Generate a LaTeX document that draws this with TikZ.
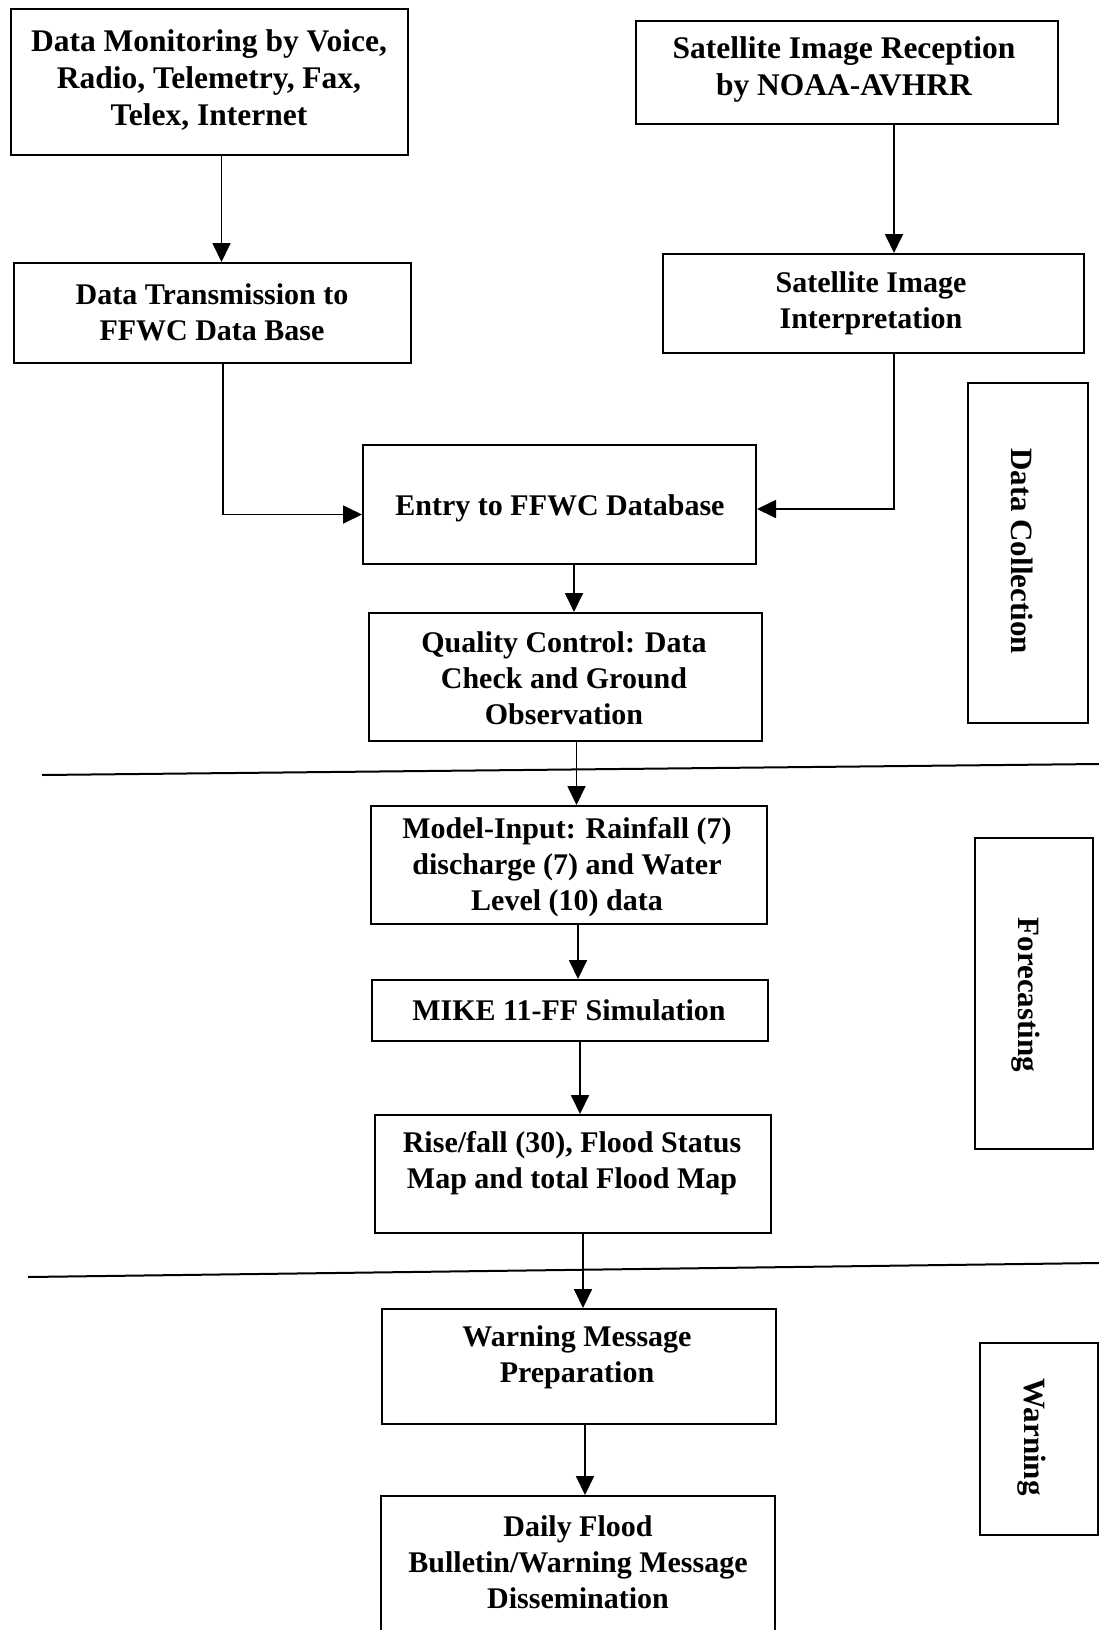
\documentclass[tikz,border=0pt]{standalone}
\usepackage{fontspec}
\setmainfont{Liberation Serif}
\usetikzlibrary{arrows.meta,calc}

\begin{document}
\begin{tikzpicture}[x=1pt,y=-1pt,
  frame/.style={draw,line width=2pt,rectangle,anchor=north west,inner sep=0pt},
  txt/.style={align=center,font=\bfseries\fontsize{30}{36}\selectfont,inner sep=0pt},
  bigtxt/.style={txt,font=\bfseries\fontsize{31.5}{37}\selectfont},
  side/.style={font=\bfseries\fontsize{31}{36}\selectfont,rotate=-90,inner sep=0pt},
  arr/.style={line width=1.8pt,-{Triangle[length=19pt,width=18pt]}},
  sep/.style={line width=2pt}]

\fill[white] (0,0) rectangle (1099,1630);
\clip (0,0) rectangle (1099,1630);

% process boxes
\node[frame,minimum width=397pt,minimum height=146pt] (mon)    at (10,8)     {};
\node[frame,minimum width=397pt,minimum height=100pt] (trans)  at (13,262)   {};
\node[frame,minimum width=422pt,minimum height=103pt] (recv)   at (635,20)   {};
\node[frame,minimum width=421pt,minimum height=99pt]  (interp) at (662,253)  {};
\node[frame,minimum width=393pt,minimum height=119pt] (entry)  at (362,444)  {};
\node[frame,minimum width=393pt,minimum height=128pt] (qc)     at (368,612)  {};
\node[frame,minimum width=396pt,minimum height=118pt] (model)  at (370,805)  {};
\node[frame,minimum width=396pt,minimum height=61pt]  (mike)   at (371,979)  {};
\node[frame,minimum width=396pt,minimum height=118pt] (rise)   at (374,1114) {};
\node[frame,minimum width=394pt,minimum height=115pt] (prep)   at (381,1308) {};
\node[frame,minimum width=394pt,minimum height=160pt] (daily)  at (380,1495) {};

% phase boxes
\node[frame,minimum width=120pt,minimum height=340pt] (pdc) at (967,382)  {};
\node[frame,minimum width=118pt,minimum height=311pt] (pfc) at (974,837)  {};
\node[frame,minimum width=118pt,minimum height=192pt] (pwn) at (979,1342) {};

% box texts
\node[bigtxt] (monT)    at (209,80)   {Data Monitoring by Voice,\\Radio, Telemetry, Fax,\\Telex, Internet};
\node[txt]    (transT)  at (212,312)  {Data Transmission to\\FFWC Data Base};
\node[bigtxt] (recvT)   at (844,69)   {Satellite Image Reception\\by NOAA-AVHRR};
\node[txt]    (interpT) at (871,303)  {Satellite Image\\Interpretation};
\node[txt]    (entryT)  at (560,508)  {Entry to FFWC Database};
\node[txt]    (qcT)     at (564,678)  {Quality Control: Data\\Check and Ground\\Observation};
\node[txt]    (modelT)  at (567,867)  {Model-Input: Rainfall (7)\\discharge (7) and Water\\Level (10) data};
\node[txt]    (mikeT)   at (569,1010) {MIKE 11-FF Simulation};
\node[txt]    (riseT)   at (572,1163) {Rise/fall (30), Flood Status\\Map and total Flood Map};
\node[txt]    (prepT)   at (577,1357) {Warning Message\\Preparation};
\node[txt]    (dailyT)  at (578,1562) {Daily Flood\\Bulletin/Warning Message\\Dissemination};

% phase labels
\node[side] (pdcT) at (1022,551)  {Data Collection};
\node[side] (pfcT) at (1026,995)  {Forecasting};
\node[side] (pwnT) at (1032,1437) {Warning};

% phase separators
\draw[sep] (42,775) -- (1099,764);
\draw[sep] (28,1277) -- (1099,1263);

% connectors
\coordinate (c1) at ([xshift=12pt]mon.south);
\draw[arr] (c1) -- (c1 |- trans.north);
\coordinate (c2) at ([xshift=47pt]recv.south);
\draw[arr] (c2) -- (c2 |- interp.north);
\coordinate (c3) at ([xshift=10.5pt]trans.south);
\draw[arr] (c3) |- ([yshift=-10pt]entry.west);
\coordinate (c4) at ([xshift=20.5pt]interp.south);
\draw[arr] (c4) |- ([yshift=-4.5pt]entry.east);
\coordinate (c5) at ([xshift=14.5pt]entry.south);
\draw[arr] (c5) -- (c5 |- qc.north);
\coordinate (c6) at ([xshift=11pt]qc.south);
\draw[arr] (c6) -- (c6 |- model.north);
\coordinate (c7) at ([xshift=9pt]model.south);
\draw[arr] (c7) -- (c7 |- mike.north);
\coordinate (c8) at ([xshift=10pt]mike.south);
\draw[arr] (c8) -- (c8 |- rise.north);
\coordinate (c9) at ([xshift=10pt]rise.south);
\draw[arr] (c9) -- (c9 |- prep.north);
\coordinate (c10) at ([xshift=6pt]prep.south);
\draw[arr] (c10) -- (c10 |- daily.north);
\end{tikzpicture}
\end{document}
